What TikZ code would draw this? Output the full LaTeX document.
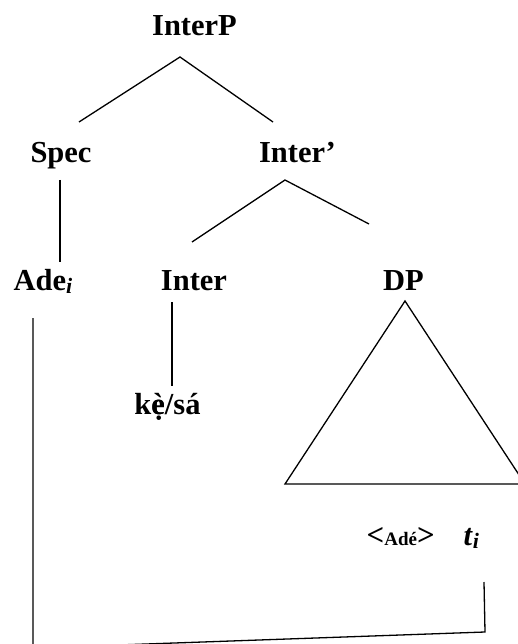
\documentclass[tikz,border=0pt]{standalone}
\usepackage{fontspec}
\setmainfont{Liberation Serif}
\tikzset{
	lbl/.style={anchor=base,inner sep=0pt,font=\fontsize{30.5}{36}\selectfont\bfseries},
	small/.style={anchor=base,inner sep=0pt,font=\fontsize{19}{22}\selectfont\bfseries}
}
\newcommand{\idx}[1]{\raisebox{-3pt}{\fontsize{22}{24}\selectfont\textit{#1}}}
\newcommand{\ang}[1]{{\fontsize{31}{33}\selectfont #1}}

\begin{document}
\begin{tikzpicture}[x=1pt,y=-1pt,line width=1.3pt]
	\useasboundingbox (0,0) rectangle (517,644);
	\node[lbl](InterP) at (194.5,36){InterP};
	\node[lbl](Spec) at (61,163){Spec};
	\node[lbl](InterBar) at (297.5,163){Inter’};
	\node[lbl,anchor=base west](Ade) at (13,290){Ade\idx{i}};
	\node[lbl](Inter) at (194,290){Inter};
	\node[lbl](DP) at (403.5,290){DP};
	\node[lbl](kesa) at (167.5,414){k\rlap{ẹ}è/sá};
	\node[small,anchor=base west](Copy) at (366,545){\ang{<}Adé\ang{>}};
	\node[lbl,anchor=base west](Trace) at (463,545){\textit{t}\idx{i}};
	% branch points
	\coordinate (InterP-root) at (180,57);
	\coordinate (Spec-top) at (79,122);
	\coordinate (InterBar-top) at (273,122);
	\coordinate (Spec-foot) at (60,180);
	\coordinate (Ade-top) at (60,262);
	\coordinate (InterBar-root) at (285,180);
	\coordinate (Inter-top) at (192,242);
	\coordinate (DP-top) at (369,224);
	\coordinate (Inter-foot) at (172,302);
	\coordinate (kesa-top) at (172,386);
	\coordinate (DP-apex) at (405,301);
	\coordinate (DP-left) at (285,484);
	\coordinate (DP-right) at (525,484);
	% movement line
	\coordinate (Trace-foot) at (484,582);
	\coordinate (Trace-corner) at (485,632);
	\coordinate (Ade-corner) at (33,648);
	\coordinate (Ade-foot) at (33,318);
	\draw (Spec-top) -- (InterP-root) -- (InterBar-top);
	\draw (Spec-foot) -- (Ade-top);
	\draw (Inter-top) -- (InterBar-root) -- (DP-top);
	\draw (Inter-foot) -- (kesa-top);
	\draw (DP-left) -- (DP-apex) -- (DP-right) -- cycle;
	\draw (Trace-foot) -- (Trace-corner) -- (Ade-corner) -- (Ade-foot);
\end{tikzpicture}
\end{document}
